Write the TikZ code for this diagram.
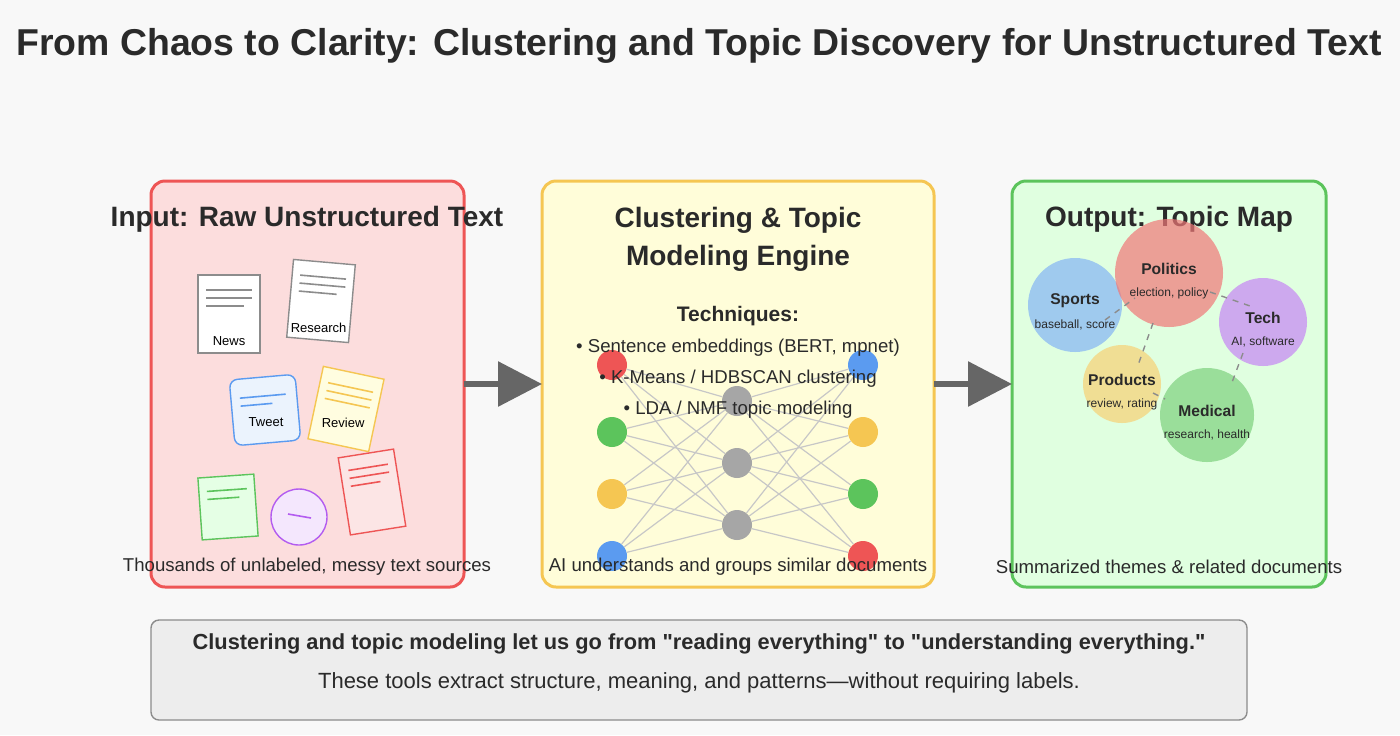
\documentclass[tikz,border=0pt]{standalone}
\usepackage{fontspec}
\setmainfont{Liberation Sans}
\usetikzlibrary{arrows.meta}
\definecolor{bgc}{HTML}{F8F8F8}
\definecolor{redc}{HTML}{EE5555}
\definecolor{yelc}{HTML}{F5C652}
\definecolor{grnc}{HTML}{5CC45C}
\definecolor{bluc}{HTML}{5B9BF0}
\definecolor{purc}{HTML}{B35CF0}
\definecolor{txtc}{HTML}{2A2A2A}
\tikzset{
  panel/.style={rounded corners=7pt, line width=1.5pt},
  flow/.style={draw=black!60, line width=3pt, -{Triangle[length=22pt,width=22pt]}},
  nn/.style={circle, minimum size=15pt, inner sep=0pt},
  topic/.style={circle, inner sep=0pt, opacity=0.7},
  link/.style={draw=black!45, dashed, line width=0.7pt},
  ptxt/.style={font=\fontsize{14}{16}\selectfont\bfseries, text=txtc, align=center},
  btxt/.style={font=\fontsize{9.3}{11}\selectfont, text=txtc},
}
% paper sheet: centre x, centre y, angle, colour, fill, label
\newcommand{\paper}[6]{%
  \begin{scope}[shift={(#1,#2)}, rotate=#3]
    \draw[#4, fill=#5, line width=0.7pt] (-31,-39) rectangle (31,39);
    \draw[#4, line width=0.8pt] (-23,-24) -- (23,-24) (-23,-16) -- (23,-16) (-23,-8) -- (15,-8);
    \node[font=\fontsize{6.5}{8}\selectfont] at (0,27) {#6};
  \end{scope}}
\begin{document}
\begin{tikzpicture}[x=0.5pt, y=-0.5pt]
  \fill[bgc] (0,0) rectangle (1400,735);
  \node[font=\fontsize{18.7}{22}\selectfont\bfseries, text=txtc] (title) at (699,46) {From Chaos to Clarity: Clustering and Topic Discovery for Unstructured Text};

  % Panels
  \draw[panel, draw=redc, fill=redc!20] (151,181) rectangle (464,587);
  \draw[panel, draw=yelc, fill=yellow!15] (542,181) rectangle (934,587);
  \draw[panel, draw=grnc, fill=green!12] (1012,181) rectangle (1326,587);
  \coordinate (p1) at (464,384); \coordinate (p2) at (542,384);
  \coordinate (p3) at (934,384); \coordinate (p4) at (1012,384);
  \draw[flow] (p1) -- (p2);
  \draw[flow] (p3) -- (p4);

  % Input documents
  \node[ptxt] at (307,219) {Input: Raw Unstructured Text};
  \paper{229}{314}{0}{black!45}{white}{News}
  \paper{321}{301}{-5}{black!45}{white}{Research}
  \begin{scope}[shift={(265,410)}, rotate=5]
    \draw[bluc, fill=bluc!12, line width=0.7pt, rounded corners=4pt] (-33,-33) rectangle (33,33);
    \draw[bluc, line width=0.8pt] (-24,-14) -- (22,-14) (-24,-6) -- (8,-6);
    \node[font=\fontsize{6.5}{8}\selectfont] at (0,12) {Tweet};
  \end{scope}
  \begin{scope}[shift={(346,409)}, rotate=-12]
    \draw[yelc, fill=yellow!12, line width=0.7pt] (-31,-37) rectangle (31,37);
    \draw[yelc, line width=0.8pt] (-23,-22) -- (23,-22) (-23,-14) -- (23,-14) (-23,-6) -- (23,-6);
    \node[font=\fontsize{6.5}{8}\selectfont] at (0,14) {Review};
  \end{scope}
  \begin{scope}[shift={(228,507)}, rotate=4]
    \draw[grnc, fill=green!10, line width=0.7pt] (-28,-31) rectangle (28,31);
    \draw[grnc, line width=0.8pt] (-20,-17) -- (20,-17) (-20,-9) -- (12,-9);
  \end{scope}
  \draw[purc, fill=purc!15, line width=0.7pt] (299,517) circle (28);
  \draw[purc, line width=0.8pt] (288,514) -- (311,518);
  \begin{scope}[shift={(372,492)}, rotate=9]
    \draw[redc, fill=redc!15, line width=0.7pt] (-28,-39) rectangle (28,39);
    \draw[redc, line width=0.8pt] (-20,-25) -- (20,-25) (-20,-17) -- (20,-17) (-20,-9) -- (10,-9);
  \end{scope}
  \node[btxt] at (307,567) {Thousands of unlabeled, messy text sources};

  % Engine network
  \foreach \y/\c [count=\i] in {365/redc, 432/grnc, 494/yelc, 556/bluc}
    \node[nn, fill=\c] (l\i) at (612,\y) {};
  \foreach \y/\c [count=\i] in {365/bluc, 432/yelc, 494/grnc, 556/redc}
    \node[nn, fill=\c] (r\i) at (863,\y) {};
  \foreach \y [count=\i] in {401,463,525}
    \node[nn, fill=black!35] (m\i) at (737,\y) {};
  \foreach \i in {1,...,4}
    \foreach \j in {1,2,3}
      \draw[black!22, line width=0.6pt] (l\i) -- (m\j) (m\j) -- (r\i);
  \node[ptxt] at (738,239) {Clustering \& Topic\\[3pt]Modeling Engine};
  \node[font=\fontsize{10.5}{12}\selectfont\bfseries, text=txtc] at (738,316) {Techniques:};
  \node[btxt] at (738,348) {• Sentence embeddings (BERT, mpnet)};
  \node[btxt] at (738,379) {• K-Means / HDBSCAN clustering};
  \node[btxt] at (738,410) {• LDA / NMF topic modeling};
  \node[btxt] at (738,567) {AI understands and groups similar documents};

  % Topic map
  \node[ptxt] at (1169,219) {Output: Topic Map};
  \node[topic, fill=bluc!75, minimum size=47pt] (sports) at (1075,305) {};
  \node[topic, fill=redc!80, minimum size=54pt] (politics) at (1169,273) {};
  \node[topic, fill=purc!75, minimum size=44pt] (tech) at (1263,322) {};
  \node[topic, fill=yelc!80, minimum size=39pt] (products) at (1122,384) {};
  \node[topic, fill=grnc!80, minimum size=47pt] (medical) at (1207,415) {};
  \draw[link] (1105,320) -- (1135,298);
  \draw[link] (1210,292) -- (1250,306);
  \draw[link] (1153,323) -- (1137,368);
  \draw[link] (1153,393) -- (1165,399);
  \draw[link] (1243,353) -- (1231,385);
  \foreach \n/\a/\b in {sports/Sports/{baseball, score}, politics/Politics/{election, policy},
      tech/Tech/{AI, software}, products/Products/{review, rating}, medical/Medical/{research, health}} {
    \node[font=\fontsize{7.8}{9}\selectfont\bfseries, text=txtc] at ([yshift=2pt]\n) {\a};
    \node[font=\fontsize{6}{7}\selectfont, text=txtc] at ([yshift=-10pt]\n) {\b};
  }
  \node[btxt] at (1169,567) {Summarized themes \& related documents};

  % Bottom note
  \draw[rounded corners=4pt, draw=black!45, fill=black!7, line width=0.7pt] (151,620) rectangle (1247,720);
  \node[font=\fontsize{10.9}{13}\selectfont\bfseries, text=txtc] at (699,644) {Clustering and topic modeling let us go from \textquotedbl reading everything\textquotedbl\ to \textquotedbl understanding everything.\textquotedbl};
  \node[font=\fontsize{11}{13}\selectfont, text=txtc] at (699,683) {These tools extract structure, meaning, and patterns—without requiring labels.};
\end{tikzpicture}
\end{document}
